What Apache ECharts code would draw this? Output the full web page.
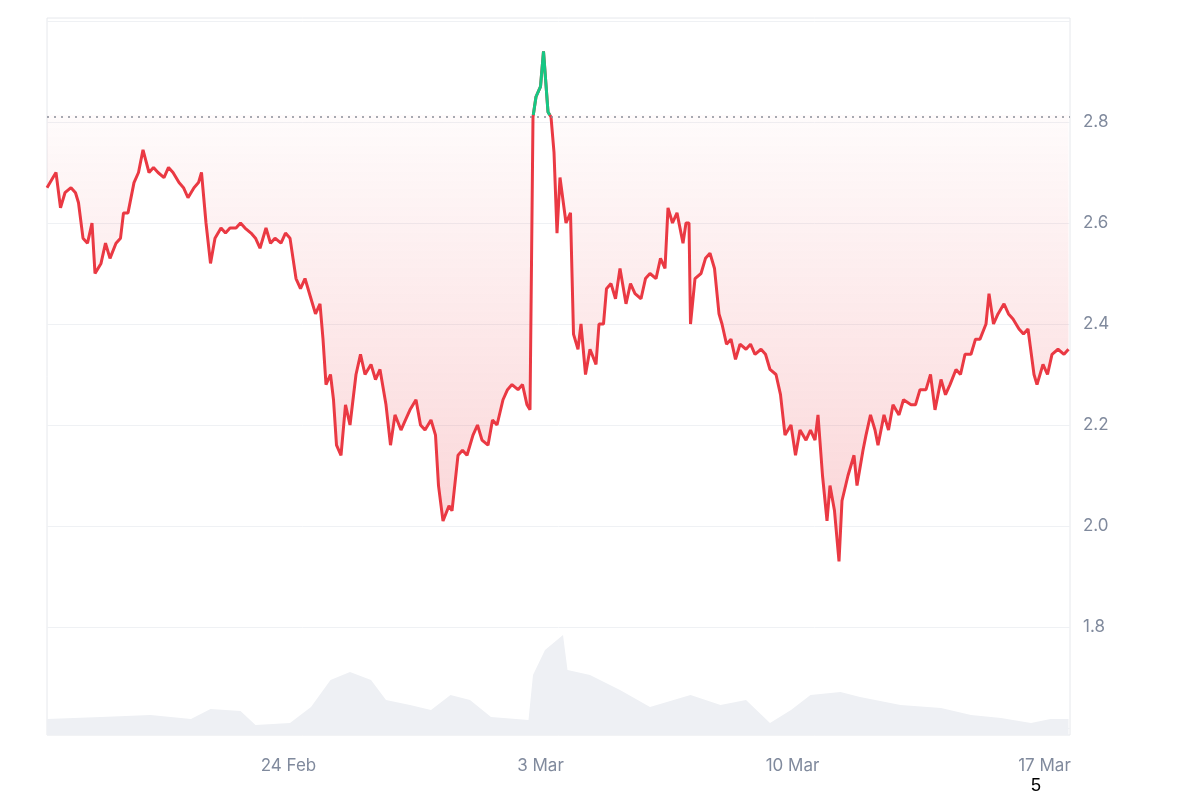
<!DOCTYPE html>
<html><head><meta charset="utf-8">
<script src="https://cdn.jsdelivr.net/npm/echarts@6/dist/echarts.min.js"></script>
<style>html,body{margin:0;background:#fff}#c{width:1200px;height:800px}</style></head>
<body><div id="c"></div>
<script>
// hours relative to 24 Feb 00:00
const priceHours=[-161,-157,-155,-152,-149,-145,-142,-140,-137,-134,-131,-129,-125,-122,-119,-115,-112,-110,-107,-103,-100,-97,-93,-90,-87,-83,-80,-77,-73,-70,-67,-63,-60,-58,-55,-52,-49,-45,-42,-39,-35,-32,-29,-25,-22,-19,-15,-12,-9,-5,-2,1,5,8,11,15,18,21,23,25,28,30,32,35,38,41,45,48,51,55,58,61,65,68,71,75,78,81,85,88,91,95,98,100,103,107,109,113,116,119,123,126,129,133,136,139,143,146,149,153,156,159,161,163,165,168,170,173,175,177,179,181,185,188,190,193,195,198,201,205,207,210,212,215,218,221,225,228,231,235,238,241,245,248,251,253,256,259,263,265,267,268,271,275,278,281,284,287,289,292,295,298,301,305,308,311,315,318,321,325,328,331,335,338,341,345,348,351,353,356,359,361,364,367,369,373,377,379,383,385,388,391,393,397,400,403,407,410,415,418,421,425,428,431,435,438,441,445,448,451,455,458,461,465,467,470,473,477,480,483,487,490,493,497,499,503,506,509,513,517,520];
const prices=[2.67,2.69,2.70,2.63,2.66,2.67,2.66,2.64,2.57,2.56,2.60,2.50,2.52,2.56,2.53,2.56,2.57,2.62,2.62,2.68,2.70,2.745,2.70,2.71,2.70,2.69,2.71,2.70,2.68,2.67,2.65,2.67,2.68,2.70,2.60,2.52,2.57,2.59,2.58,2.59,2.59,2.60,2.59,2.58,2.57,2.55,2.59,2.56,2.57,2.56,2.58,2.57,2.49,2.47,2.49,2.45,2.42,2.44,2.37,2.28,2.30,2.25,2.16,2.14,2.24,2.20,2.30,2.34,2.30,2.32,2.29,2.31,2.24,2.16,2.22,2.19,2.21,2.23,2.25,2.20,2.19,2.21,2.18,2.08,2.01,2.04,2.03,2.14,2.15,2.14,2.18,2.20,2.17,2.16,2.21,2.20,2.25,2.27,2.28,2.27,2.28,2.24,2.23,2.81,2.85,2.87,2.94,2.82,2.81,2.74,2.58,2.69,2.60,2.62,2.38,2.35,2.40,2.30,2.35,2.32,2.40,2.40,2.47,2.48,2.45,2.51,2.44,2.48,2.46,2.45,2.49,2.50,2.49,2.53,2.51,2.63,2.60,2.62,2.56,2.60,2.60,2.40,2.49,2.50,2.53,2.54,2.51,2.42,2.40,2.36,2.37,2.33,2.36,2.35,2.36,2.34,2.35,2.34,2.31,2.30,2.26,2.18,2.20,2.14,2.19,2.17,2.19,2.17,2.22,2.10,2.01,2.08,2.03,1.93,2.05,2.10,2.14,2.08,2.15,2.18,2.22,2.19,2.16,2.22,2.19,2.24,2.22,2.25,2.24,2.24,2.27,2.27,2.30,2.23,2.29,2.26,2.28,2.31,2.30,2.34,2.34,2.37,2.37,2.40,2.46,2.40,2.42,2.44,2.42,2.41,2.39,2.38,2.39,2.30,2.28,2.32,2.30,2.34,2.35,2.34,2.35];
const volHours=[-161,-125,-92,-65,-52,-32,-22,1,15,28,41,55,65,81,95,108,121,135,160,163,171,183,186,201,221,241,268,288,305,321,335,348,368,381,408,435,455,475,495,508,520];
const volumes=[16,18,20,16,26,24,10,12,28,55,63,55,35,30,25,40,35,18,15,60,85,100,65,60,45,28,40,30,35,12,25,40,43,38,30,27,20,17,12,16,16];
const refPrice=2.814;
const tickHours=[0,168,336,504];
const tickLabels=['24 Feb','3 Mar','10 Mar','17 Mar'];
const yTicks=[1.8,2.0,2.2,2.4,2.6,2.8];

// segments above the reference price (with crossing points)
const above=[];
for(let i=0;i<prices.length;i++){
  const p=prices[i],h=priceHours[i];
  if(i>0){
    const p0=prices[i-1],h0=priceHours[i-1];
    if((p0-refPrice)*(p-refPrice)<0){
      const t=(refPrice-p0)/(p-p0);
      const hc=h0+t*(h-h0);
      above.push([hc,refPrice]);
      if(p<refPrice) above.push([hc,null]);
    }
  }
  if(p>refPrice) above.push([h,p]);
}

const ch=echarts.init(document.getElementById('c'));
const grey='#808a9d';
const priceData=priceHours.map((h,i)=>[h,prices[i]]);
ch.setOption({
  animation:false,
  grid:[{left:47,right:130,top:21,bottom:72},{left:47,right:130,top:18,bottom:65,show:true,borderColor:'#e6e8ec',borderWidth:1}],
  xAxis:[
    {type:'value',gridIndex:0,min:-161,max:521,show:false},
    {type:'value',gridIndex:1,min:-161,max:521,axisLine:{show:false},axisTick:{show:false},splitLine:{show:false},
     axisLabel:{customValues:tickHours,formatter:v=>tickLabels[tickHours.indexOf(v)]||'',color:grey,fontSize:17,margin:22,fontFamily:'Inter'}}
  ],
  yAxis:[
    {type:'value',gridIndex:0,position:'right',min:1.6,max:3.0,interval:0.2,axisLine:{show:false},axisTick:{show:false},
     splitLine:{lineStyle:{color:'#eff1f4'}},
     axisLabel:{color:grey,fontSize:17,margin:13,fontFamily:'Inter',formatter:v=>yTicks.some(t=>Math.abs(t-v)<1e-6)?v.toFixed(1):''}},
    {type:'value',gridIndex:1,min:0,max:717,show:false}
  ],
  series:[
    {type:'custom',xAxisIndex:0,yAxisIndex:0,silent:true,z:2,data:[[0,refPrice]],
     renderItem:(params,api)=>{
       const pts=priceHours.map((h,i)=>api.coord([h,Math.min(prices[i],refPrice)]));
       pts.push(api.coord([priceHours[priceHours.length-1],refPrice]));
       pts.push(api.coord([priceHours[0],refPrice]));
       return {type:'polygon',shape:{points:pts},style:{fill:new echarts.graphic.LinearGradient(0,0,0,1,[{offset:0,color:'rgba(234,57,67,0.02)'},{offset:1,color:'rgba(234,57,67,0.22)'}])}};
     }},
    {type:'line',xAxisIndex:0,yAxisIndex:0,showSymbol:false,data:priceData,
     lineStyle:{width:3,color:'#ea3943'},z:3},
    {type:'line',xAxisIndex:0,yAxisIndex:0,showSymbol:false,connectNulls:false,data:above,
     lineStyle:{width:3,color:'#16c784'},z:4,
     markLine:{silent:true,symbol:'none',label:{show:false},lineStyle:{color:'#8a8f99',type:[2,5],width:1.5},data:[{yAxis:refPrice}]}},
    {type:'line',xAxisIndex:1,yAxisIndex:1,showSymbol:false,data:volHours.map((h,i)=>[h,volumes[i]]),
     lineStyle:{width:0},areaStyle:{color:'#eef0f4',opacity:1},z:1}
  ],
  graphic:[{type:'text',left:1031,top:777,style:{text:'5',fontSize:18,fill:'#000',fontFamily:'Liberation Sans'}}]
});
</script></body></html>
